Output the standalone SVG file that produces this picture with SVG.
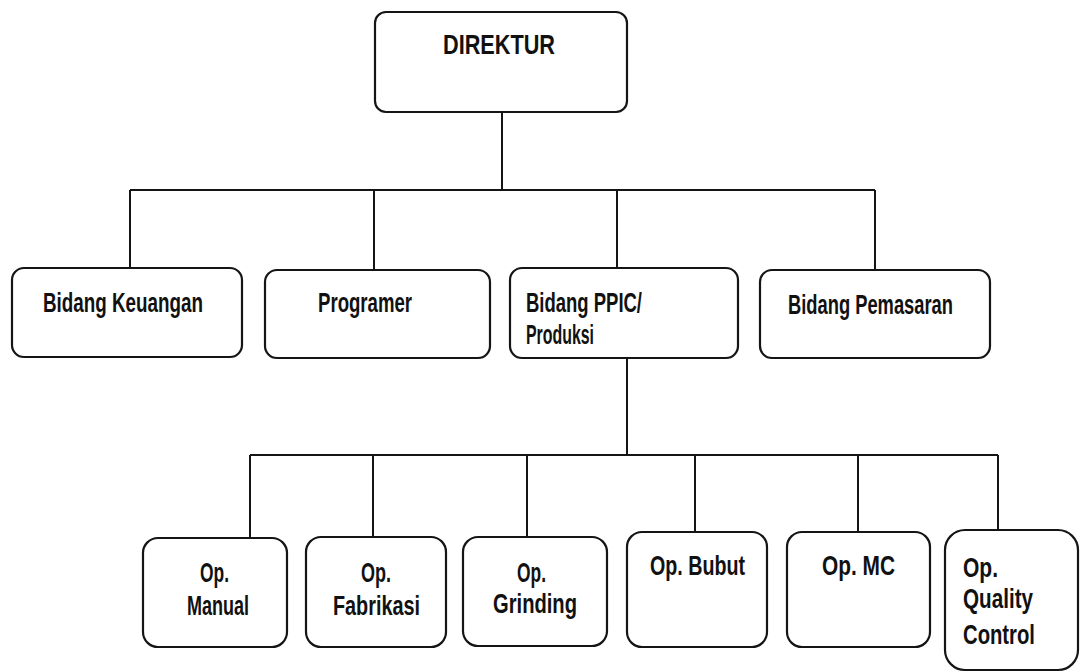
<svg xmlns="http://www.w3.org/2000/svg" width="1081" height="672" viewBox="0 0 1081 672">
<style>
.box{fill:#fff;stroke:#151515;stroke-width:2.2}
.ln{fill:none;stroke:#151515;stroke-width:2}
text{font-family:"Liberation Sans",Arial,sans-serif;font-weight:bold;font-size:28px;fill:#111}
</style>
<rect width="1081" height="672" fill="#fff"/>
<g id="connectors">
<path class="ln" d="M502 112V190M130 190H875M130 190V268M374 190V270M617 190V268M875 190V270"/>
<path class="ln" d="M627 358V455M250 455H998M250 455V538M373 455V537M527 455V537M695 455V532M858 455V532M998 455V530"/>
</g>
<g id="direktur"><rect class="box" x="375" y="12" width="252" height="100" rx="11"/>
<text x="443" y="54" textLength="112" lengthAdjust="spacingAndGlyphs">DIREKTUR</text></g>
<g id="keuangan"><rect class="box" x="12" y="268" width="230" height="89" rx="12"/>
<text x="43" y="312" textLength="160" lengthAdjust="spacingAndGlyphs">Bidang Keuangan</text></g>
<g id="programer"><rect class="box" x="265" y="270" width="225" height="88" rx="12"/>
<text x="318" y="312" textLength="94" lengthAdjust="spacingAndGlyphs">Programer</text></g>
<g id="ppic"><rect class="box" x="510" y="268" width="228" height="90" rx="12"/>
<text x="526" y="312" textLength="116" lengthAdjust="spacingAndGlyphs">Bidang PPIC/</text>
<text x="526" y="344" textLength="68" lengthAdjust="spacingAndGlyphs">Produksi</text></g>
<g id="pemasaran"><rect class="box" x="760" y="270" width="230" height="88" rx="12"/>
<text x="788" y="314" textLength="165" lengthAdjust="spacingAndGlyphs">Bidang Pemasaran</text></g>
<g id="manual"><rect class="box" x="143" y="538" width="144" height="109" rx="15"/>
<text x="200" y="582" textLength="29" lengthAdjust="spacingAndGlyphs">Op.</text>
<text x="187" y="615" textLength="62" lengthAdjust="spacingAndGlyphs">Manual</text></g>
<g id="fabrikasi"><rect class="box" x="306" y="537" width="140" height="110" rx="15"/>
<text x="361" y="582" textLength="30" lengthAdjust="spacingAndGlyphs">Op.</text>
<text x="333" y="615" textLength="87" lengthAdjust="spacingAndGlyphs">Fabrikasi</text></g>
<g id="grinding"><rect class="box" x="463" y="537" width="144" height="109" rx="15"/>
<text x="517" y="582" textLength="29" lengthAdjust="spacingAndGlyphs">Op.</text>
<text x="493" y="613" textLength="84" lengthAdjust="spacingAndGlyphs">Grinding</text></g>
<g id="bubut"><rect class="box" x="627" y="532" width="140" height="115" rx="15"/>
<text x="650" y="575" textLength="95" lengthAdjust="spacingAndGlyphs">Op. Bubut</text></g>
<g id="mc"><rect class="box" x="787" y="532" width="143" height="115" rx="15"/>
<text x="822" y="575" textLength="73" lengthAdjust="spacingAndGlyphs">Op. MC</text></g>
<g id="qc"><rect class="box" x="945" y="530" width="133" height="140" rx="20"/>
<text x="963" y="577" textLength="35" lengthAdjust="spacingAndGlyphs">Op.</text>
<text x="963" y="608" textLength="70" lengthAdjust="spacingAndGlyphs">Quality</text>
<text x="963" y="644" textLength="72" lengthAdjust="spacingAndGlyphs">Control</text></g>
</svg>
